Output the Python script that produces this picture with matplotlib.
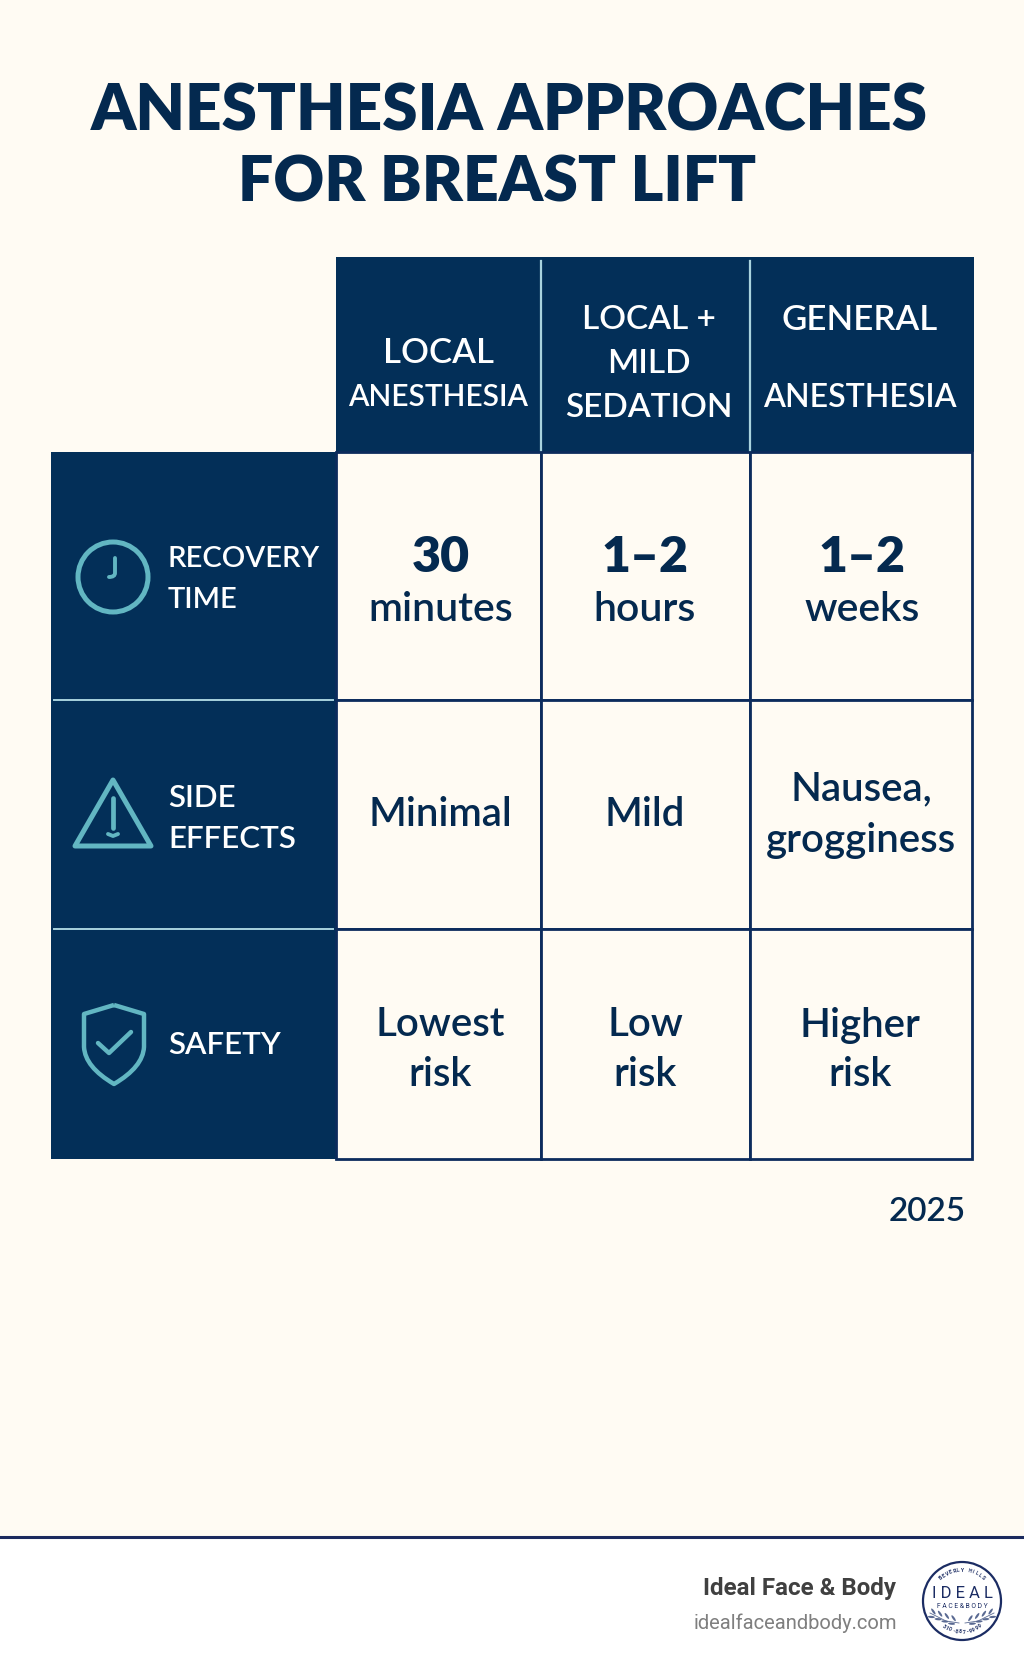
import numpy as np
import matplotlib
matplotlib.use("Agg")
import matplotlib.pyplot as plt
from matplotlib.patches import Rectangle, Circle, Polygon, PathPatch, Ellipse
from matplotlib.path import Path

TITLE_LINES = ["ANESTHESIA APPROACHES", "FOR BREAST LIFT"]
COLUMNS = [["LOCAL", "ANESTHESIA"], ["LOCAL +", "MILD", "SEDATION"], ["GENERAL", "", "ANESTHESIA"]]
ROWS = [["RECOVERY", "TIME"], ["SIDE", "EFFECTS"], ["SAFETY"]]
RECOVERY_BIG = ["30", "1–2", "1–2"]
RECOVERY_UNIT = ["minutes", "hours", "weeks"]
SIDE_EFFECTS = [["Minimal"], ["Mild"], ["Nausea,", "grogginess"]]
SAFETY = [["Lowest", "risk"], ["Low", "risk"], ["Higher", "risk"]]
YEAR = "2025"
BRAND = "Ideal Face & Body"
SITE = "idealfaceandbody.com"

# layout in image pixels
COL_EDGES = [51, 336, 541, 750, 972]
ROW_EDGES = [257, 452, 700, 929, 1159]
NAVY = "#032F58"
GRID = "#0C2B5C"
CREAM = "#FFFBF3"
TEAL = "#62B6C2"
LIGHT = "#A9D3DE"
INK = "#04294F"
LOGO = "#1B2C63"
LEAF = "#5A6A92"
FONT = "Lato"


def draw_lines(ax, x, y, lines, spacing, **kw):
    # lines are centred as a block around y
    top = y - spacing * (len(lines) - 1) / 2
    for i, line in enumerate(lines):
        ax.text(x, top + i * spacing, line, va="center_baseline", family=FONT, **kw)


def draw_clock(ax, cx, cy):
    ax.add_patch(Circle((cx, cy), 35, fill=False, ec=TEAL, lw=3.6))
    hand = Path([(cx + 2, cy - 19), (cx + 2, cy - 4), (cx + 2, cy), (cx - 4, cy)],
                [Path.MOVETO, Path.LINETO, Path.CURVE3, Path.CURVE3])
    ax.add_patch(PathPatch(hand, fill=False, ec=TEAL, lw=2.8, capstyle="round"))


def draw_warning(ax, cx, top, bottom):
    half = 38
    ax.add_patch(Polygon([(cx, top + 4), (cx + half, bottom - 3), (cx - half, bottom - 3)], closed=True,
                         fill=False, ec=TEAL, lw=3.6, joinstyle="round"))
    ax.plot([cx, cx], [top + 22, top + 52], color=TEAL, lw=3.4, solid_capstyle="round")
    ax.plot([cx - 5, cx, cx + 5], [top + 58, top + 60, top + 58], color=TEAL, lw=2.8, solid_capstyle="round")


def draw_shield(ax, cx, top, bottom):
    half = 30
    verts = [(cx, top), (cx + half, top + 9), (cx + half, top + 42), (cx + half - 1, top + 62), (cx, bottom),
             (cx - half + 1, top + 62), (cx - half, top + 42), (cx - half, top + 9), (cx, top)]
    codes = [Path.MOVETO, Path.LINETO, Path.LINETO, Path.CURVE3, Path.CURVE3,
             Path.CURVE3, Path.CURVE3, Path.LINETO, Path.LINETO]
    ax.add_patch(PathPatch(Path(verts, codes), fill=False, ec=TEAL, lw=3.2, joinstyle="round"))
    ax.plot([cx - 16, cx - 5, cx + 17], [top + 38, top + 48, top + 27], color=TEAL, lw=3.2,
            solid_capstyle="round", solid_joinstyle="round")


def arc_text(ax, cx, cy, radius, text, center_deg, step_deg, top=True, **kw):
    n = len(text)
    for i, ch in enumerate(text):
        offset = (i - (n - 1) / 2) * step_deg
        ang = center_deg - offset if top else center_deg + offset
        x = cx + radius * np.cos(np.radians(ang))
        y = cy - radius * np.sin(np.radians(ang))
        rot = ang - 90 if top else ang + 90
        ax.text(x, y, ch, rotation=rot, ha="center", va="center", rotation_mode="anchor", **kw)


def draw_logo(ax, cx, cy):
    ax.add_patch(Circle((cx, cy), 39, fc="white", ec=LOGO, lw=1.6))
    arc_text(ax, cx, cy, 31, "BEVERLY HILLS", 90, 7, color=LOGO, fontsize=3.6, weight="bold", family="Roboto")
    arc_text(ax, cx, cy, 31, "310-887-9999", 270, 6.5, top=False, color=LOGO, fontsize=3.6, weight="bold", family="Roboto")
    ax.text(cx, cy - 8, "I D E A L", ha="center", va="center", color=LOGO, fontsize=12, family="Roboto")
    ax.text(cx, cy + 5, "F A C E & B O D Y", ha="center", va="center", color=LOGO, fontsize=4.9, family="Roboto")
    for sign in [-1, 1]:
        ax.plot([cx + sign * 3, cx + sign * 16, cx + sign * 32], [cy + 22, cy + 20, cy + 12], color=LEAF, lw=0.6)
        for t in [0.2, 0.45, 0.7, 0.95]:
            bx = cx + sign * (3 + 27 * t)
            by = cy + 22 - 9 * t
            ax.add_patch(Ellipse((bx, by - 3), 7, 2.2, angle=-sign * 55, color=LEAF, lw=0))
            ax.add_patch(Ellipse((bx + sign * 2, by + 2.5), 7, 2.2, angle=-sign * 5, color=LEAF, lw=0))


def main():
    fig = plt.figure(figsize=(10.24, 16.66), dpi=100)
    ax = fig.add_axes([0, 0, 1, 1])
    ax.set_xlim(0, 1024)
    ax.set_ylim(1666, 0)
    ax.axis("off")

    ax.add_patch(Rectangle((0, 0), 1024, 1537, fc=CREAM, lw=0))
    ax.add_patch(Rectangle((0, 1537), 1024, 129, fc="white", lw=0))
    ax.plot([0, 1024], [1537, 1537], color="#1B2A5E", lw=2.2)

    ax.text(509, 106, TITLE_LINES[0], ha="center", va="center_baseline", color=INK, fontsize=46, weight="heavy", family=FONT)
    ax.text(497, 178, TITLE_LINES[1], ha="center", va="center_baseline", color=INK, fontsize=45, weight="heavy", family=FONT)

    # header row and left column panels
    ax.add_patch(Rectangle((COL_EDGES[1], ROW_EDGES[0]), COL_EDGES[-1] + 2 - COL_EDGES[1], ROW_EDGES[1] - ROW_EDGES[0], fc=NAVY, lw=0))
    ax.add_patch(Rectangle((COL_EDGES[0], ROW_EDGES[1]), COL_EDGES[1] - COL_EDGES[0], ROW_EDGES[-1] - ROW_EDGES[1], fc=NAVY, lw=0))
    for x in COL_EDGES[2:4]:
        ax.plot([x, x], [ROW_EDGES[0] + 4, ROW_EDGES[1] - 2], color=LIGHT, lw=1.6)
    for y in ROW_EDGES[2:4]:
        ax.plot([COL_EDGES[0] + 3, COL_EDGES[1] - 3], [y, y], color=LIGHT, lw=1.4)

    # body cells
    for r in range(3):
        for c in range(3):
            ax.add_patch(Rectangle((COL_EDGES[c + 1], ROW_EDGES[r + 1]), COL_EDGES[c + 2] - COL_EDGES[c + 1],
                                   ROW_EDGES[r + 2] - ROW_EDGES[r + 1], fc=CREAM, ec=GRID, lw=2.0))

    header_y = [372, 361, 356]
    header_gap = [44, 44, 39]
    col_x = [438, 649, 860]
    header_sizes = [[25, 21.5], [24, 24, 24], [25, 24, 23]]
    for c, lines in enumerate(COLUMNS):
        top = header_y[c] - header_gap[c] * (len(lines) - 1) / 2
        for i, line in enumerate(lines):
            ax.text(col_x[c], top + i * header_gap[c], line, ha="center", va="center_baseline", color="white",
                    fontsize=header_sizes[c][i], weight="semibold", family=FONT)

    recovery_x = [441, 645, 862]
    body_x = [440, 645, 860]
    for c in range(3):
        ax.text(recovery_x[c], 553, RECOVERY_BIG[c], ha="center", va="center_baseline", color=INK, fontsize=36, weight="heavy", family=FONT)
        ax.text(recovery_x[c], 606, RECOVERY_UNIT[c], ha="center", va="center_baseline", color=INK, fontsize=29.5, weight="semibold", family=FONT)
        draw_lines(ax, body_x[c] + (1 if c == 2 else 0), 811, SIDE_EFFECTS[c], 51, ha="center", color=INK, fontsize=29, weight="semibold")
        draw_lines(ax, body_x[c], 1046, SAFETY[c], 49, ha="center", color=INK, fontsize=29, weight="semibold")

    row_y = [577, 816, 1042]
    row_sizes = [21, 22.5, 22.5]
    for r, lines in enumerate(ROWS):
        draw_lines(ax, 168, row_y[r], lines, 41, ha="left", color="white", fontsize=row_sizes[r], weight="semibold")

    draw_clock(ax, 113, 577)
    draw_warning(ax, 113, 776, 849)
    draw_shield(ax, 114, 1005, 1084)

    ax.text(966, 1209, YEAR, ha="right", va="center_baseline", color=INK, fontsize=24, weight="semibold", family=FONT)

    ax.text(896, 1586, BRAND, ha="right", va="center_baseline", color="#404040", fontsize=17.4, weight="bold", family="Roboto")
    ax.text(897, 1621, SITE, ha="right", va="center_baseline", color="#7F7F7F", fontsize=14.5, family="Roboto")
    draw_logo(ax, 962, 1601)

    fig.savefig("out.png", dpi=100)


if __name__ == "__main__":
    main()
